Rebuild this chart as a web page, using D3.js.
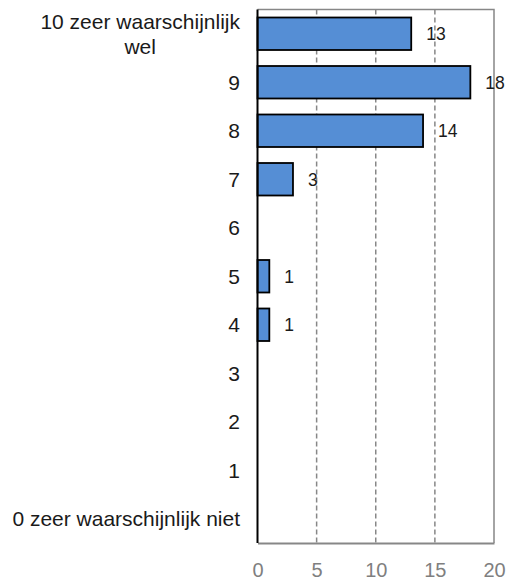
<!DOCTYPE html>
<html>
<head>
<script src="https://d3js.org/d3.v7.min.js"></script>
<style>
    body { margin: 0; background: #fff; }
    text { font-family: "Liberation Sans", Arial, sans-serif; }
</style>
</head>
<body>
<script>
var categories = ['10 zeer waarschijnlijk wel', '9', '8', '7', '6', '5', '4', '3', '2', '1', '0 zeer waarschijnlijk niet'];
var values = [13, 18, 14, 3, 0, 1, 1, 0, 0, 0, 0];
var xTicks = [0, 5, 10, 15, 20];

var width = 507;
var height = 580;
// plot area edges
var plotLeft = 257.5, plotRight = 494, plotTop = 9.5, plotBottom = 543;

var svg = d3.select('body')
    .append('svg')
    .attr('width', width)
    .attr('height', height);

// scales
var xScale = d3.scaleLinear()
    .domain([0, 20])
    .range([plotLeft, plotRight]);

var yScale = d3.scaleBand()
    .domain(categories)
    .range([plotTop, plotBottom])
    .paddingInner(0.33)
    .paddingOuter(0.165);

var rows = categories.map((c, i) => ({c: c, v: values[i]}));

// grid lines, dashed
svg.append('g')
    .selectAll('line')
    .data(xTicks.filter(d => d > 0 && d < 20))
    .enter()
    .append('line')
    .attr('x1', d => xScale(d))
    .attr('x2', d => xScale(d))
    .attr('y1', plotTop)
    .attr('y2', plotBottom)
    .style('stroke', '#878787')
    .style('stroke-width', 1.5)
    .style('stroke-dasharray', '5,3');

// plot border (top + right)
svg.append('path')
    .attr('d', 'M' + plotLeft + ',' + plotTop + 'H' + plotRight + 'V' + plotBottom)
    .style('fill', 'none')
    .style('stroke', '#878787')
    .style('stroke-width', 1.5);

// x axis
var xAxis = d3.axisBottom(xScale)
    .tickValues(xTicks)
    .tickSize(0)
    .tickPadding(19.5);

var gx = svg.append('g')
    .attr('transform', 'translate(0,' + plotBottom + ')')
    .call(xAxis);
gx.select('.domain')
    .style('stroke', '#878787')
    .style('stroke-width', 2);
gx.selectAll('text')
    .style('font-family', '"Liberation Sans", Arial, sans-serif')
    .style('font-size', '20px')
    .style('fill', '#7f7f7f');

// bars
svg.selectAll('.bar')
    .data(rows.filter(d => d.v > 0))
    .enter()
    .append('rect')
    .attr('class', 'bar')
    .attr('x', xScale(0))
    .attr('y', d => yScale(d.c))
    .attr('width', d => xScale(d.v) - xScale(0))
    .attr('height', yScale.bandwidth())
    .style('fill', '#558ed5')
    .style('stroke', '#000')
    .style('stroke-width', 1.8);

// value labels
svg.selectAll('.val')
    .data(rows.filter(d => d.v > 0))
    .enter()
    .append('text')
    .attr('class', 'val')
    .attr('x', d => xScale(d.v) + 15)
    .attr('y', d => yScale(d.c) + yScale.bandwidth() / 2)
    .attr('dy', '0.36em')
    .style('font-size', '17.5px')
    .style('fill', '#1a1a1a')
    .text(d => d.v);

// y axis line
svg.append('line')
    .attr('x1', plotLeft).attr('x2', plotLeft)
    .attr('y1', plotTop).attr('y2', plotBottom)
    .style('stroke', '#000')
    .style('stroke-width', 2);

// category labels
categories.forEach(function (c, i) {
    var cy = yScale(c) + yScale.bandwidth() / 2;
    if (i === 0) {
        var t = svg.append('text')
            .attr('x', 240)
            .attr('y', cy - 12)
            .attr('dy', '0.36em')
            .attr('text-anchor', 'end')
            .style('font-size', '21px')
            .style('fill', '#1a1a1a')
            .text('10 zeer waarschijnlijk');
        var w = t.node().getComputedTextLength();
        svg.append('text')
            .attr('x', 240 - w / 2)
            .attr('y', cy + 12.5)
            .attr('dy', '0.36em')
            .attr('text-anchor', 'middle')
            .style('font-size', '21px')
            .style('fill', '#1a1a1a')
            .text('wel');
    } else {
        svg.append('text')
            .attr('x', 240)
            .attr('y', cy)
            .attr('dy', '0.36em')
            .attr('text-anchor', 'end')
            .style('font-size', '21px')
            .style('fill', '#1a1a1a')
            .text(c);
    }
});
</script>
</body>
</html>
